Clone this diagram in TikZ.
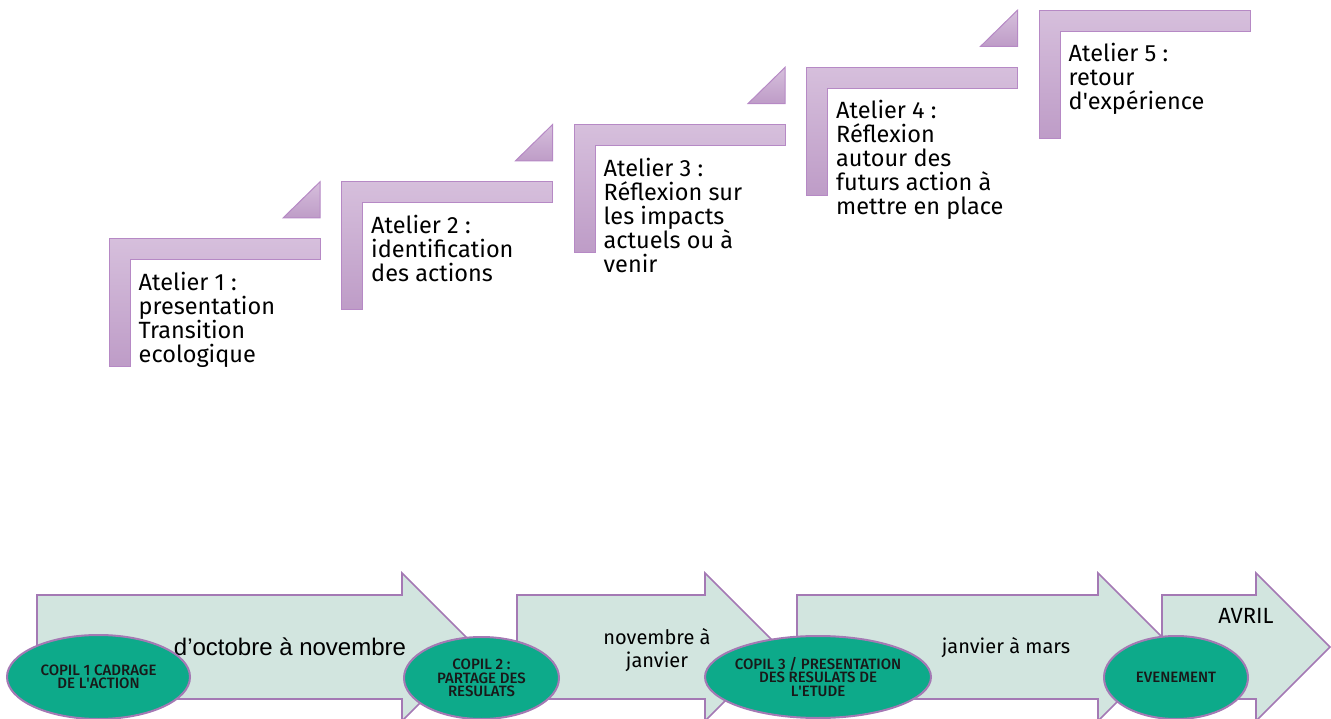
\documentclass[tikz,border=0pt]{standalone}
\usepackage{fontspec}
\setmainfont{Fira Sans}
\newfontfamily\arialfont{Liberation Sans}
\newfontfamily\copilfont{Fira Sans Medium}
\usepackage{xcolor}
\usepackage{tikz}
\usetikzlibrary{positioning,shapes.geometric}
\definecolor{steplight}{RGB}{214,191,220}
\definecolor{stepdark}{RGB}{190,156,199}
\definecolor{stepline}{RGB}{182,137,197}
\definecolor{phasefill}{RGB}{210,229,223}
\definecolor{phaseline}{RGB}{164,121,180}
\definecolor{copilfill}{RGB}{13,170,138}
\tikzset{
  stepshape/.style={draw=stepline, line width=1pt, top color=steplight, bottom color=stepdark},
  phase/.style={draw=phaseline, line width=1.6pt, fill=phasefill},
  copil/.style={ellipse, draw=phaseline, line width=2pt, fill=copilfill, inner sep=-20pt,
    align=center, text=black!90, font=\copilfont\fontsize{15}{13.5}\selectfont},
  atelier/.style={anchor=north west, inner sep=0pt, align=left, font=\fontsize{23.5}{24}\selectfont},
  period/.style={inner sep=0pt, align=center, font=\fontsize{20}{23}\selectfont}
}

\begin{document}
\begin{tikzpicture}[x=1pt,y=-1pt]
\useasboundingbox (0,0) rectangle (1331,719);
\foreach \i/\txt in {0/{Atelier 1 :\\presentation\\Transition\\ecologique},
                     1/{Atelier 2 :\\identification\\des actions},
                     2/{Atelier 3 :\\Réflexion sur\\les impacts\\actuels ou à\\venir},
                     3/{Atelier 4 :\\Réflexion\\autour des\\futurs action à\\mettre en place},
                     4/{Atelier 5 :\\retour\\d\textquotesingle expérience}} {
\pgfmathsetmacro\sx{109+232.5*\i}
\pgfmathsetmacro\sy{239-57.2*\i}
\draw[stepshape] (\sx,\sy) -- ++(211,0) -- ++(0,21) -- ++(-190,0) -- ++(0,107) -- ++(-21,0) -- cycle;
\ifnum\i<4
\draw[stepshape] (\sx+174,\sy-21) -- (\sx+211,\sy-21) -- (\sx+211,\sy-57.2) -- cycle;
\fi
\node[atelier] (atelier\i) at (\sx+29.5,\sy+33) {\txt};
}
\foreach \l/\h in {37/402,517/705,797/1098,1162/1256}
\draw[phase] (\l,595) -- (\h,595) -- (\h,573) -- (\h+74,647) -- (\h,721) -- (\h,699) -- (\l,699) -- cycle;
\node[period, font=\arialfont\fontsize{24}{28}\selectfont] (octnov) at (290,647) {d’octobre à novembre};
\node[period] (novjan) at (657,650) {novembre à\\janvier};
\node[period] (janmar) at (1006,648) {janvier à mars};
\node[period, anchor=base, font=\fontsize{22}{23}\selectfont] (avril) at (1246,623) {AVRIL};
\node[copil, minimum width=183, minimum height=84] (copil1) at (98.5,677) {COPIL 1 CADRAGE\\DE L\textquotesingle ACTION};
\node[copil, minimum width=155, minimum height=82] (copil2) at (481.5,678) {COPIL 2 :\\PARTAGE DES\\RESULATS};
\node[copil, minimum width=226, minimum height=82] (copil3) at (818,677) {COPIL 3 / PRESENTATION\\DES RESULATS DE\\L\textquotesingle ETUDE};
\node[copil, minimum width=144, minimum height=83] (event) at (1176,677.5) {EVENEMENT};
\end{tikzpicture}
\end{document}
